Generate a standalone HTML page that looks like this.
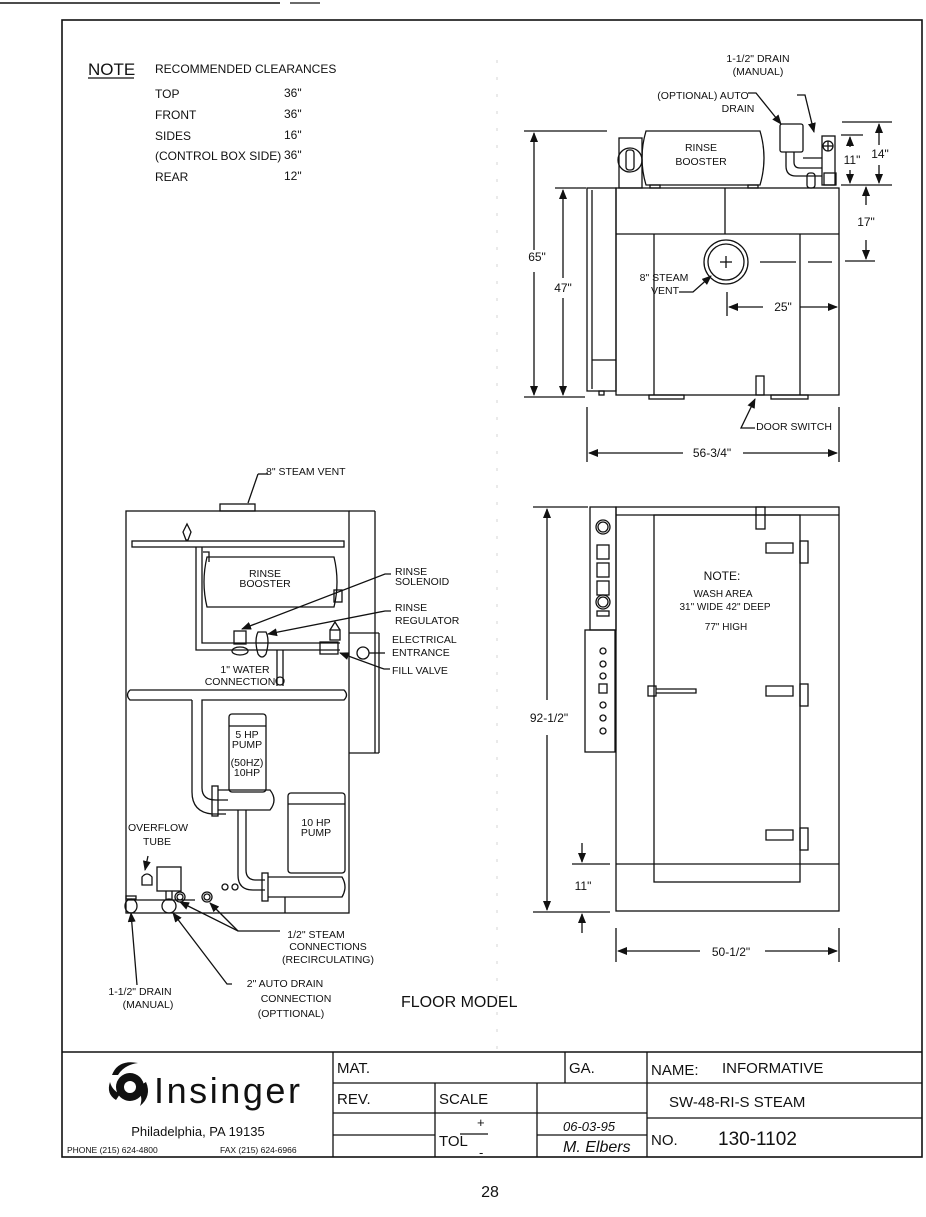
<!DOCTYPE html>
<html><head><meta charset="utf-8"><style>
html,body{margin:0;padding:0;background:#fff}
svg{display:block}
text{font-family:"Liberation Sans",Arial,sans-serif;fill:#111}
</style></head><body>
<svg width="926" height="1217" viewBox="0 0 926 1217" xmlns="http://www.w3.org/2000/svg">
<defs>
<marker id="a" markerWidth="10" markerHeight="8" refX="9" refY="4" orient="auto" markerUnits="userSpaceOnUse"><path d="M0,0 L10,4 L0,8 z" fill="#111"/></marker>
</defs>
<g stroke="#111" fill="none" stroke-width="1.3">
<line x1="0" y1="3" x2="280" y2="3" stroke-width="1.5"/>
<line x1="290" y1="3" x2="320" y2="3"/>
<rect x="62" y="20" width="860" height="1137" stroke-width="1.6"/>
<line x1="497" y1="60" x2="497" y2="1050" stroke="#ccc" stroke-dasharray="3,14" stroke-width="0.8"/>
<line x1="62" y1="1052" x2="922" y2="1052" stroke-width="1.6"/>
<line x1="333" y1="1052" x2="333" y2="1157"/>
<line x1="647" y1="1052" x2="647" y2="1157"/>
<line x1="333" y1="1083" x2="922" y2="1083"/>
<line x1="565" y1="1052" x2="565" y2="1083"/>
<line x1="435" y1="1083" x2="435" y2="1157"/>
<line x1="537" y1="1083" x2="537" y2="1157"/>
<line x1="333" y1="1113" x2="647" y2="1113"/>
<line x1="333" y1="1135" x2="435" y2="1135"/>
<line x1="537" y1="1135" x2="647" y2="1135"/>
<line x1="647" y1="1118" x2="922" y2="1118"/>
<line x1="460" y1="1134" x2="488" y2="1134"/>

<rect x="587" y="188" width="29" height="203"/>
<line x1="592" y1="190" x2="592" y2="389"/>
<line x1="592" y1="360" x2="616" y2="360"/>
<rect x="616" y="188" width="223" height="207"/>
<line x1="616" y1="234" x2="839" y2="234"/>
<line x1="725" y1="188" x2="725" y2="234"/>
<line x1="654" y1="234" x2="654" y2="395"/>
<line x1="800" y1="234" x2="800" y2="395"/>
<rect x="649" y="395" width="35" height="4"/>
<rect x="771" y="395" width="37" height="4"/>
<rect x="599" y="391" width="5" height="4"/>
<rect x="756" y="376" width="8" height="19"/>
<rect x="619" y="138" width="23" height="50"/>
<circle cx="630" cy="160" r="12"/>
<rect x="626" y="150" width="8" height="20" rx="3"/>
<path d="M646,131 L760,131 Q768,158 760,185 L646,185 Q638,158 646,131 z"/>
<rect x="650" y="185" width="10" height="3"/><rect x="748" y="185" width="10" height="3"/>
<rect x="780" y="124" width="23" height="28" rx="2"/>
<path d="M786,152 v14 q0,10 10,10 h26 M794,152 v10 q0,6 6,6 h22 M803,158 h19"/>
<rect x="822" y="136" width="13" height="49"/>
<circle cx="828" cy="146" r="5"/><line x1="823" y1="146" x2="833" y2="146"/><line x1="828" y1="141" x2="828" y2="151"/>
<rect x="807" y="173" width="8" height="15" rx="3"/>
<rect x="824" y="173" width="12" height="12"/>
<circle cx="726" cy="262" r="22"/><circle cx="726" cy="262" r="18"/>
<line x1="720" y1="262" x2="732" y2="262"/><line x1="726" y1="256" x2="726" y2="268"/>
<line x1="760" y1="262" x2="796" y2="262"/><line x1="808" y1="262" x2="832" y2="262"/>
<line x1="524" y1="131" x2="607" y2="131"/>
<line x1="524" y1="397" x2="585" y2="397"/>
<line x1="555" y1="188" x2="586" y2="188"/>
<line x1="534" y1="250" x2="534" y2="133" marker-end="url(#a)"/>
<line x1="534" y1="272" x2="534" y2="395" marker-end="url(#a)"/>
<line x1="563" y1="278" x2="563" y2="190" marker-end="url(#a)"/>
<line x1="563" y1="298" x2="563" y2="395" marker-end="url(#a)"/>
<line x1="842" y1="122" x2="892" y2="122"/>
<line x1="841" y1="135" x2="863" y2="135"/>
<line x1="841" y1="185" x2="892" y2="185"/>
<line x1="845" y1="261" x2="875" y2="261"/>
<line x1="879" y1="145" x2="879" y2="124" marker-end="url(#a)"/>
<line x1="879" y1="165" x2="879" y2="183" marker-end="url(#a)"/>
<line x1="850" y1="147" x2="850" y2="137" marker-end="url(#a)"/>
<line x1="850" y1="170" x2="850" y2="183" marker-end="url(#a)"/>
<line x1="866" y1="205" x2="866" y2="187" marker-end="url(#a)"/>
<line x1="866" y1="240" x2="866" y2="259" marker-end="url(#a)"/>
<line x1="727" y1="292" x2="727" y2="316"/>
<line x1="763" y1="307" x2="729" y2="307" marker-end="url(#a)"/>
<line x1="800" y1="307" x2="837" y2="307" marker-end="url(#a)"/>
<line x1="587" y1="407" x2="587" y2="462"/>
<line x1="839" y1="407" x2="839" y2="462"/>
<line x1="683" y1="453" x2="589" y2="453" marker-end="url(#a)"/>
<line x1="743" y1="453" x2="837" y2="453" marker-end="url(#a)"/>
<path d="M797,95 h8 L814,132" marker-end="url(#a)"/>
<path d="M748,93 h8 L781,124" marker-end="url(#a)"/>
<path d="M679,292 h14 L711,276" marker-end="url(#a)"/>
<path d="M755,428 h-14 L755,399" marker-end="url(#a)"/>

<rect x="126" y="511" width="223" height="402"/>
<line x1="349" y1="511" x2="375" y2="511"/>
<line x1="375" y1="511" x2="375" y2="753"/>
<line x1="349" y1="753" x2="379" y2="753"/>
<line x1="349" y1="633" x2="379" y2="633"/>
<line x1="379" y1="633" x2="379" y2="753"/>
<rect x="220" y="504" width="35" height="7"/>
<line x1="248" y1="503" x2="258" y2="474"/><line x1="258" y1="474" x2="268" y2="474"/>
<rect x="132" y="541" width="212" height="6"/>
<path d="M186,540 l-3,-8 l4,-8 l4,8 l-3,8 z"/>
<path d="M196,547 V650 H340 M202,547 V643 H340"/>
<path d="M207,557 h127 q6,25 0,50 h-127 q-6,-25 0,-50 z"/>
<path d="M203,552 h6 v10"/>
<rect x="334" y="590" width="8" height="12"/>
<rect x="234" y="631" width="12" height="13"/><ellipse cx="240" cy="651" rx="8" ry="4"/>
<path d="M258,632 q-4,8 0,22 q4,6 8,0 q4,-14 0,-22 z"/>
<rect x="330" y="630" width="10" height="10"/><path d="M330,630 l5,-8 l5,8"/>
<rect x="320" y="642" width="18" height="12"/>
<path d="M277,650 v36 M283,650 v36"/><circle cx="280" cy="681" r="4"/>
<circle cx="363" cy="653" r="6"/><line x1="369" y1="653" x2="385" y2="653"/>
<path d="M130,690 H344 q5,5 0,10 H202 V788 q0,12 14,12 h12 M192,700 V792 q0,20 20,22 h14 M130,690 q-5,5 0,10 h62"/>
<rect x="229" y="714" width="37" height="78" rx="3"/>
<line x1="229" y1="726" x2="266" y2="726"/>
<rect x="212" y="786" width="6" height="30"/>
<path d="M218,790 h52 q8,10 0,20 h-52"/>
<path d="M238,810 V875 q0,15 15,15 h12 M246,810 V870 q0,10 10,10 h9"/>
<rect x="288" y="793" width="57" height="80" rx="3"/>
<line x1="288" y1="804" x2="345" y2="804"/>
<rect x="262" y="873" width="6" height="28"/>
<path d="M268,877 h74 q6,10 0,20 h-74"/>
<line x1="285" y1="897" x2="285" y2="913"/>
<circle cx="225" cy="887" r="3"/><circle cx="235" cy="887" r="3"/>
<rect x="157" y="867" width="24" height="24"/>
<path d="M142,885 v-8 q5,-6 10,0 v8 z"/>
<line x1="166" y1="891" x2="166" y2="900"/><line x1="172" y1="891" x2="172" y2="900"/>
<line x1="127" y1="900" x2="195" y2="900"/>
<rect x="126" y="896" width="10" height="3"/>
<ellipse cx="131" cy="906" rx="6" ry="7"/>
<ellipse cx="169" cy="906" rx="7" ry="7"/>
<circle cx="180" cy="897" r="5"/><circle cx="180" cy="897" r="3"/>
<circle cx="207" cy="897" r="5"/><circle cx="207" cy="897" r="3"/>
<path d="M391,574 h-6 L242,629" marker-end="url(#a)"/>
<path d="M391,611 h-6 L268,634" marker-end="url(#a)"/>
<path d="M390,669 h-6 L340,653" marker-end="url(#a)"/>
<path d="M148,856 L145,870" marker-end="url(#a)"/>
<path d="M137,985 L131,913" marker-end="url(#a)"/>
<path d="M232,984 h-5 L173,913" marker-end="url(#a)"/>
<path d="M280,931 h-42 L180,902" marker-end="url(#a)"/>
<path d="M238,931 L210,903" marker-end="url(#a)"/>

<rect x="590" y="507" width="26" height="123"/>
<rect x="585" y="630" width="30" height="122"/>
<rect x="616" y="507" width="223" height="404"/>
<line x1="616" y1="515" x2="839" y2="515"/>
<rect x="654" y="515" width="146" height="367"/>
<line x1="616" y1="864" x2="839" y2="864"/>
<rect x="756" y="507" width="9" height="22"/>
<circle cx="603" cy="527" r="7"/><circle cx="603" cy="527" r="5"/>
<rect x="597" y="545" width="12" height="14"/><rect x="597" y="563" width="12" height="14"/><rect x="597" y="581" width="12" height="14"/>
<circle cx="603" cy="602" r="7"/><circle cx="603" cy="602" r="5"/>
<rect x="597" y="611" width="12" height="5"/>
<circle cx="603" cy="651" r="3"/><circle cx="603" cy="664" r="3"/><circle cx="603" cy="676" r="3"/>
<rect x="599" y="684" width="8" height="9"/>
<circle cx="603" cy="705" r="3"/><circle cx="603" cy="718" r="3"/><circle cx="603" cy="731" r="3"/>
<path d="M766,543 h27 v10 h-27 z"/><rect x="800" y="541" width="8" height="22"/>
<path d="M766,686 h27 v10 h-27 z"/><rect x="800" y="684" width="8" height="22"/>
<path d="M766,830 h27 v10 h-27 z"/><rect x="800" y="828" width="8" height="22"/>
<rect x="648" y="686" width="8" height="10"/><path d="M656,689 h40 v4 h-40"/>
<line x1="533" y1="507" x2="588" y2="507"/>
<line x1="533" y1="912" x2="610" y2="912"/>
<line x1="547" y1="700" x2="547" y2="509" marker-end="url(#a)"/>
<line x1="547" y1="735" x2="547" y2="910" marker-end="url(#a)"/>
<line x1="572" y1="864" x2="610" y2="864"/>
<line x1="582" y1="843" x2="582" y2="862" marker-end="url(#a)"/>
<line x1="582" y1="933" x2="582" y2="914" marker-end="url(#a)"/>
<line x1="616" y1="928" x2="616" y2="962"/>
<line x1="839" y1="928" x2="839" y2="962"/>
<line x1="700" y1="951" x2="618" y2="951" marker-end="url(#a)"/>
<line x1="765" y1="951" x2="837" y2="951" marker-end="url(#a)"/>
</g>

<g font-size="12">
<text x="88" y="75" font-size="17">NOTE</text>
<line x1="88" y1="78" x2="134" y2="78" stroke="#111" stroke-width="1.3"/>
<text x="155" y="73">RECOMMENDED CLEARANCES</text>
<text x="155" y="98">TOP</text><text x="284" y="97">36"</text>
<text x="155" y="119">FRONT</text><text x="284" y="118">36"</text>
<text x="155" y="140">SIDES</text><text x="284" y="139">16"</text>
<text x="155" y="160">(CONTROL BOX SIDE)</text><text x="284" y="159">36"</text>
<text x="155" y="181">REAR</text><text x="284" y="180">12"</text>
</g>
<g font-size="10.5" text-anchor="middle">
<text x="758" y="62">1-1/2" DRAIN</text><text x="758" y="75">(MANUAL)</text>
<text x="703" y="99">(OPTIONAL) AUTO</text><text x="738" y="112">DRAIN</text>
<text x="701" y="151">RINSE</text><text x="701" y="165">BOOSTER</text>
<text x="664" y="281">8" STEAM</text><text x="665" y="294">VENT</text>
<text x="794" y="430">DOOR SWITCH</text>
<text x="265" y="577">RINSE</text><text x="265" y="587">BOOSTER</text>
<text x="245" y="673">1" WATER</text><text x="240" y="685">CONNECTION</text>
<text x="247" y="738">5 HP</text><text x="247" y="748">PUMP</text>
<text x="247" y="766">(50HZ)</text><text x="247" y="776">10HP</text>
<text x="316" y="826">10 HP</text><text x="316" y="836">PUMP</text>
<text x="158" y="831">OVERFLOW</text><text x="157" y="845">TUBE</text>
<text x="316" y="938">1/2" STEAM</text><text x="328" y="950">CONNECTIONS</text><text x="328" y="963">(RECIRCULATING)</text>
<text x="140" y="995">1-1/2" DRAIN</text><text x="148" y="1008">(MANUAL)</text>
<text x="285" y="987">2" AUTO DRAIN</text><text x="296" y="1002">CONNECTION</text><text x="291" y="1017">(OPTTIONAL)</text>
<text x="726" y="630" font-size="10">77" HIGH</text>
<text x="723" y="597" font-size="10">WASH AREA</text>
<text x="725" y="610" font-size="10">31" WIDE  42" DEEP</text>
</g>
<g font-size="10.5">
<text x="395" y="575">RINSE</text><text x="395" y="585">SOLENOID</text>
<text x="395" y="611">RINSE</text><text x="395" y="624">REGULATOR</text>
<text x="392" y="643">ELECTRICAL</text><text x="392" y="656">ENTRANCE</text>
<text x="392" y="674">FILL VALVE</text>
<text x="266" y="475">8" STEAM VENT</text>
</g>
<g font-size="12" text-anchor="middle">
<text x="722" y="580">NOTE:</text>
<text x="537" y="261">65"</text><text x="563" y="292">47"</text>
<text x="783" y="311">25"</text><text x="712" y="457">56-3/4"</text>
<text x="866" y="226">17"</text><text x="852" y="164">11"</text><text x="880" y="158">14"</text>
<text x="549" y="722">92-1/2"</text><text x="583" y="890">11"</text><text x="731" y="956">50-1/2"</text>
</g>
<text x="401" y="1007" font-size="16">FLOOR MODEL</text>
<g font-size="15">
<text x="337" y="1073">MAT.</text><text x="569" y="1073">GA.</text>
<text x="337" y="1104">REV.</text><text x="439" y="1104">SCALE</text>
<text x="439" y="1146">TOL</text>
<text x="651" y="1075">NAME:</text><text x="722" y="1073">INFORMATIVE</text>
<text x="669" y="1107">SW-48-RI-S STEAM</text>
<text x="651" y="1145">NO.</text><text x="718" y="1145" font-size="19">130-1102</text>
</g>
<text x="477" y="1127" font-size="13">+</text><text x="479" y="1157" font-size="13">-</text>
<text x="563" y="1131" font-size="13" font-style="italic" font-family="Liberation Serif,serif">06-03-95</text>
<text x="563" y="1152" font-size="16" font-style="italic" font-family="Liberation Serif,serif">M. Elbers</text>
<g fill="#111">
<circle cx="130" cy="1087" r="14"/>
<path d="M112,1075 q6,-16 26,-12 q-14,2 -20,12 z"/>
<path d="M146,1082 q6,14 -6,24 q4,-10 -4,-18 z"/>
<path d="M116,1100 q-10,-6 -6,-18 q2,8 10,12 z"/>
</g>
<circle cx="130" cy="1087" r="6" fill="#fff"/>
<text x="154" y="1103" font-size="36" font-weight="300" letter-spacing="2" textLength="148">Insinger</text>
<text x="198" y="1136" font-size="13" text-anchor="middle">Philadelphia,  PA 19135</text>
<text x="67" y="1153" font-size="8.5">PHONE (215) 624-4800</text>
<text x="220" y="1153" font-size="8.5">FAX (215) 624-6966</text>
<text x="490" y="1197" font-size="16" text-anchor="middle">28</text>
</svg>
</body></html>
